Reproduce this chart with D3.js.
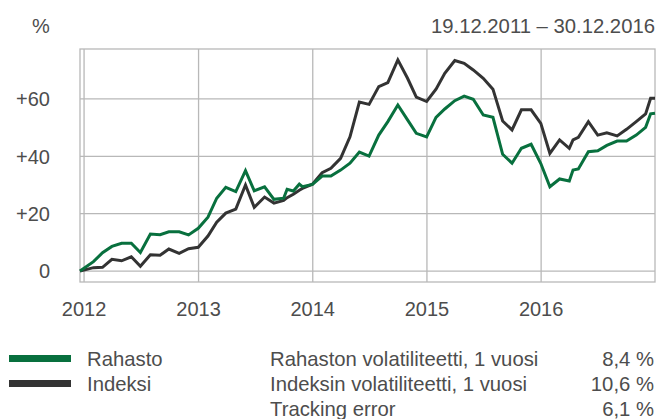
<!DOCTYPE html>
<html>
<head>
<meta charset="utf-8">
<script src="https://cdn.jsdelivr.net/npm/d3@7"></script>
<style>
    html, body { margin: 0; padding: 0; background: #ffffff; }
    svg text { font-family: "Liberation Sans", Arial, Helvetica, sans-serif; fill: #4d4d4d; }
</style>
</head>
<body>
<svg id="chart" width="658" height="419"></svg>
<script>

// dates of the data points (month ends + a few extra quotes)
var dates = [
    '2011-12-19',
    '2012-01-31','2012-02-29','2012-03-30','2012-04-30','2012-05-31','2012-06-29',
    '2012-07-31','2012-08-31','2012-09-28','2012-10-31','2012-11-30','2012-12-31',
    '2013-01-31','2013-02-28','2013-03-29','2013-04-30','2013-05-31','2013-06-28',
    '2013-07-31','2013-08-30','2013-09-30','2013-10-11','2013-10-31','2013-11-19','2013-11-29','2013-12-31',
    '2014-01-31','2014-02-28','2014-03-31','2014-04-30','2014-05-30','2014-06-30',
    '2014-07-31','2014-08-29','2014-09-30','2014-10-31','2014-11-28','2014-12-31',
    '2015-01-30','2015-02-27','2015-03-31','2015-04-30','2015-05-29','2015-06-30',
    '2015-07-31','2015-08-31','2015-09-30','2015-10-30','2015-11-30','2015-12-31',
    '2016-01-29','2016-02-29','2016-03-31','2016-04-12','2016-04-29','2016-05-31','2016-06-30',
    '2016-07-29','2016-08-31','2016-09-30','2016-10-31','2016-11-30','2016-12-16','2016-12-30'
];

var rahasto = [
    0,
    3.3, 6.4, 8.6, 9.7, 9.7, 6.5, 12.9, 12.7, 13.7, 13.7, 12.6, 14.9,
    18.8, 25.4, 29.2, 27.7, 35.0, 28.0, 29.4, 25.0, 25.4, 28.5, 27.9, 30.3, 29.4, 30.2,
    33.1, 33.1, 35.2, 37.6, 41.5, 40.1, 47.4, 52.1, 57.9, 52.7, 48.0, 46.8,
    53.6, 56.5, 59.4, 61.0, 59.9, 54.4, 53.6, 40.7, 37.6, 42.8, 44.2, 37.5,
    29.4, 32.1, 31.4, 35.2, 35.6, 41.6, 41.9, 43.8, 45.3, 45.3, 47.4, 50.1, 54.8, 55.0
];

var indeksi = [
    0,
    1.2, 1.3, 4.1, 3.6, 5.0, 1.7, 5.7, 5.5, 7.7, 6.2, 7.8, 8.3,
    12.2, 17.0, 20.2, 21.6, 30.0, 22.2, 25.8, 23.7, 24.6, 25.6, 26.8, 28.2, 28.8, 30.3,
    34.3, 35.8, 39.3, 46.8, 58.9, 58.1, 64.3, 65.7, 73.6, 67.2, 60.6, 59.1,
    63.4, 68.9, 73.4, 72.4, 70.1, 67.2, 63.4, 52.3, 49.2, 56.2, 56.2, 51.5,
    41.0, 45.7, 42.8, 45.7, 46.6, 52.1, 47.4, 48.2, 47.1, 49.4, 52.1, 54.8, 60.2, 60.2
];

var yTicks = [ 0, 20, 40, 60 ];
var yTickLabels = [ '0', '+20', '+40', '+60' ];
var xTicks = [ '2012-01-01', '2013-01-01', '2014-01-01', '2015-01-01', '2016-01-01' ];
var xTickLabels = [ '2012', '2013', '2014', '2015', '2016' ];

var periodLabel = '19.12.2011 \u2013 30.12.2016';

var legendNames = [ 'Rahasto', 'Indeksi' ];
var legendColors = [ '#08703e', '#333333' ];

var statLabels = [ 'Rahaston volatiliteetti, 1 vuosi', 'Indeksin volatiliteetti, 1 vuosi', 'Tracking error' ];
var statValues = [ '8,4 %', '10,6 %', '6,1 %' ];

var parse = d3.timeParse('%Y-%m-%d');

var svg = d3.select('#chart');

var plot = { left: 80, right: 655, top: 49, bottom: 282 };

var x = d3.scaleTime()
    .domain([ parse( dates[0] ), parse( dates[ dates.length - 1 ] ) ])
    .range([ plot.left, plot.right ]);

var y = d3.scaleLinear()
    .domain([ -3.8, 77.4 ])
    .range([ plot.bottom, plot.top ]);

var gridColor = '#b8b8b8';
var fontSize = '20.3px';

// frame
svg.append('rect')
    .attr('x', plot.left)
    .attr('y', plot.top)
    .attr('width', plot.right - plot.left)
    .attr('height', plot.bottom - plot.top)
    .attr('fill', 'none')
    .attr('stroke', gridColor)
    .attr('stroke-width', 1.3);

// horizontal grid + labels
svg.append('g')
    .selectAll('line')
    .data( yTicks )
    .enter().append('line')
    .attr('x1', plot.left)
    .attr('x2', plot.right)
    .attr('y1', function ( d ) { return y( d ); })
    .attr('y2', function ( d ) { return y( d ); })
    .attr('stroke', gridColor)
    .attr('stroke-width', 1.3);

svg.append('g')
    .selectAll('text')
    .data( yTicks )
    .enter().append('text')
    .attr('x', 50)
    .attr('y', function ( d ) { return y( d ); })
    .attr('dy', '0.36em')
    .attr('text-anchor', 'end')
    .style('font-size', '20px')
    .text( function ( d, i ) { return yTickLabels[ i ]; });

// vertical grid + labels
svg.append('g')
    .selectAll('line')
    .data( xTicks )
    .enter().append('line')
    .attr('x1', function ( d ) { return x( parse( d ) ); })
    .attr('x2', function ( d ) { return x( parse( d ) ); })
    .attr('y1', plot.top)
    .attr('y2', plot.bottom)
    .attr('stroke', gridColor)
    .attr('stroke-width', 1.3);

svg.append('g')
    .selectAll('text')
    .data( xTicks )
    .enter().append('text')
    .attr('x', function ( d ) { return x( parse( d ) ); })
    .attr('y', 316)
    .attr('text-anchor', 'middle')
    .style('font-size', '20px')
    .text( function ( d, i ) { return xTickLabels[ i ]; });

// header
svg.append('text')
    .attr('x', 41)
    .attr('y', 33)
    .attr('text-anchor', 'middle')
    .style('font-size', '20px')
    .text('%');

svg.append('text')
    .attr('x', 655)
    .attr('y', 33)
    .attr('text-anchor', 'end')
    .style('font-size', fontSize)
    .text( periodLabel );

// lines
var line = d3.line()
    .x( function ( d ) { return x( d.date ); })
    .y( function ( d ) { return y( d.value ); });

var series = [ rahasto, indeksi ].map( function ( values ) {
    return values.map( function ( v, i ) {
        return { date: parse( dates[ i ] ), value: v };
    });
});

// index below, fund on top
[ 1, 0 ].forEach( function ( k ) {

    svg.append('path')
        .datum( series[ k ] )
        .attr('d', line)
        .attr('fill', 'none')
        .attr('stroke', legendColors[ k ])
        .attr('stroke-width', 3)
        .attr('stroke-linejoin', 'miter');

});

// legend
var legendY = [ 358.5, 383.5 ];

legendNames.forEach( function ( name, i ) {

    svg.append('line')
        .attr('x1', 9)
        .attr('x2', 71)
        .attr('y1', legendY[ i ])
        .attr('y2', legendY[ i ])
        .attr('stroke', legendColors[ i ])
        .attr('stroke-width', 7);

    svg.append('text')
        .attr('x', 87)
        .attr('y', 366 + i * 25)
        .style('font-size', fontSize)
        .text( name );

});

statLabels.forEach( function ( label, i ) {

    svg.append('text')
        .attr('x', 270)
        .attr('y', 366 + i * 25)
        .style('font-size', fontSize)
        .text( label );

    svg.append('text')
        .attr('x', 654)
        .attr('y', 366 + i * 25)
        .attr('text-anchor', 'end')
        .style('font-size', fontSize)
        .text( statValues[ i ] );

});

</script>
</body>
</html>
